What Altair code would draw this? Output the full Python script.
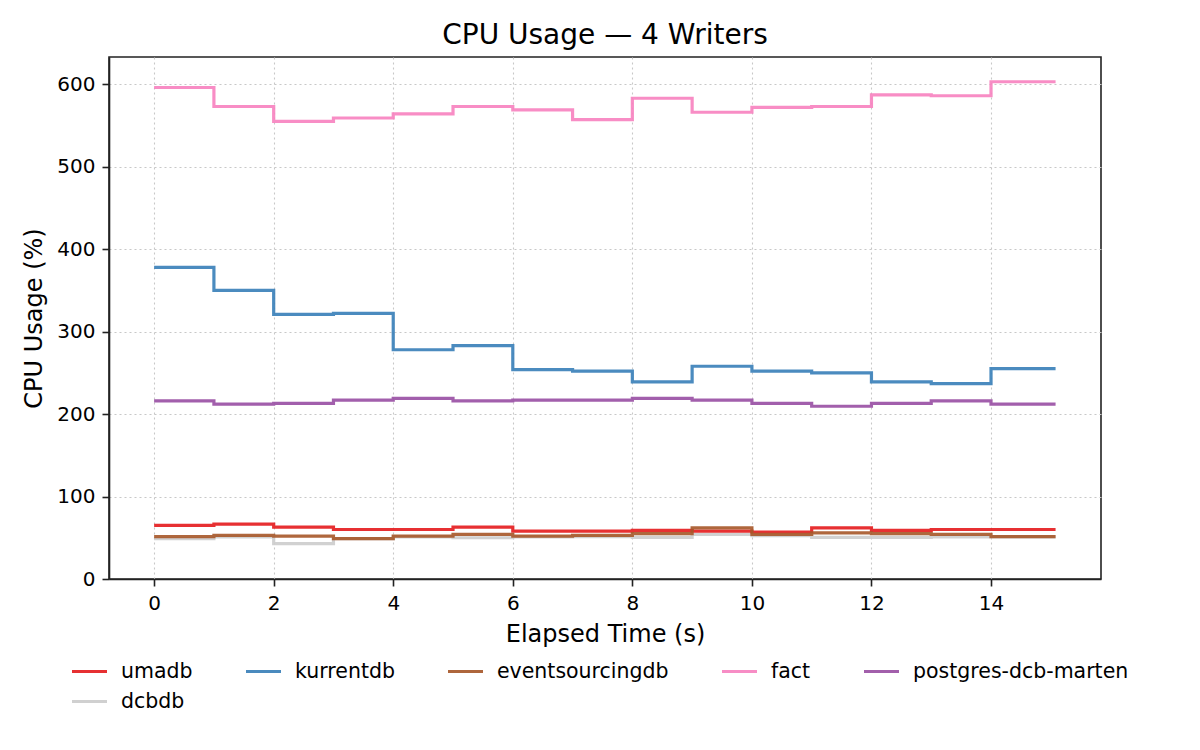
import altair as alt
import pandas as pd

# ---- data ----
elapsed = [0, 1, 2, 3, 4, 5, 6, 7, 8, 9, 10, 11, 12, 13, 14, 15.08]

series_names = ["umadb", "kurrentdb", "eventsourcingdb", "fact", "postgres-dcb-marten", "dcbdb"]
series_colors = ["#e41a1c", "#377eb8", "#a65628", "#f781bf", "#984ea3", "#cccccc"]

umadb = [65, 66.5, 63, 60, 60, 63, 58, 58, 59, 58, 57, 62, 59, 60, 60, 60]
kurrentdb = [378, 350, 321, 322, 278, 283, 254, 252, 239, 258, 252, 250, 239, 237, 255, 255]
eventsourcingdb = [51.5, 53, 52, 49, 52, 54, 52, 53, 55, 62, 54, 56, 55, 54, 51.5, 51.5]
fact = [596, 573, 555, 559, 564, 573, 569, 557, 583, 566, 572, 573, 587, 586, 603, 603]
postgres_dcb_marten = [216, 212, 213, 217, 219, 216, 217, 217, 219, 217, 213, 209.5, 213, 216, 212, 212]
dcbdb = [49, 51, 43, 49, 51, 50, 51, 51.5, 50.5, 54, 52.5, 50.5, 50.5, 51, 51, 51]

x_ticks = [0, 2, 4, 6, 8, 10, 12, 14]
y_ticks = [0, 100, 200, 300, 400, 500, 600]

# draw order: dcbdb underneath the others
draw_order = [
    ("dcbdb", dcbdb),
    ("umadb", umadb),
    ("kurrentdb", kurrentdb),
    ("eventsourcingdb", eventsourcingdb),
    ("fact", fact),
    ("postgres-dcb-marten", postgres_dcb_marten),
]

rows = []
k = 0
for name, vals in draw_order:
    for t, v in zip(elapsed, vals):
        rows.append({"t": t, "cpu": v, "series": name, "k": k})
        k += 1
df = pd.DataFrame(rows)

FONT = "DejaVu Sans"

chart = (
    alt.Chart(df)
    .mark_line(interpolate="step-after", strokeWidth=3.2, opacity=0.9)
    .encode(
        x=alt.X(
            "t:Q",
            title="Elapsed Time (s)",
            scale=alt.Scale(domain=[-0.755, 15.84], nice=False, zero=False),
            axis=alt.Axis(values=x_ticks, format="d", labelPadding=7, titlePadding=9),
        ),
        y=alt.Y(
            "cpu:Q",
            title="CPU Usage (%)",
            scale=alt.Scale(domain=[0, 633], nice=False),
            axis=alt.Axis(values=y_ticks, format="d", labelPadding=7, titlePadding=10),
        ),
        color=alt.Color(
            "series:N",
            scale=alt.Scale(domain=series_names, range=series_colors),
            legend=alt.Legend(
                title=None,
                orient="none",
                legendX=-39,
                legendY=595,
                direction="horizontal",
                columns=5,
                symbolType="stroke",
                symbolSize=1225,
                symbolStrokeWidth=3.2,
                symbolOpacity=0.9,
                labelFont=FONT,
                labelFontSize=20.5,
                labelColor="#000000",
                labelOffset=12,
                labelLimit=400,
                columnPadding=46,
                rowPadding=-4,
            ),
        ),
        order=alt.Order("k:Q"),
    )
    .properties(
        width=992,
        height=522,
        title=alt.TitleParams(
            "CPU Usage — 4 Writers",
            font=FONT,
            fontSize=28,
            fontWeight="normal",
            color="#000000",
            anchor="middle",
            offset=7,
        ),
        autosize=alt.AutoSizeParams(type="none"),
        padding={"left": 101, "top": 49, "right": 91, "bottom": 150},
    )
    .configure_view(stroke="#222222", strokeWidth=1.6)
    .configure_axis(
        labelFont=FONT,
        labelFontSize=20,
        labelColor="#000000",
        titleFont=FONT,
        titleFontSize=24,
        titleFontWeight="normal",
        titleColor="#000000",
        domainColor="#222222",
        domainWidth=1.6,
        tickColor="#222222",
        tickWidth=1.6,
        tickSize=7,
        gridColor="#c8c8c8",
        gridDash=[2, 3],
        gridWidth=1.1,
    )
)

chart.save("out.html", embed_options={"renderer": "svg", "actions": False})
